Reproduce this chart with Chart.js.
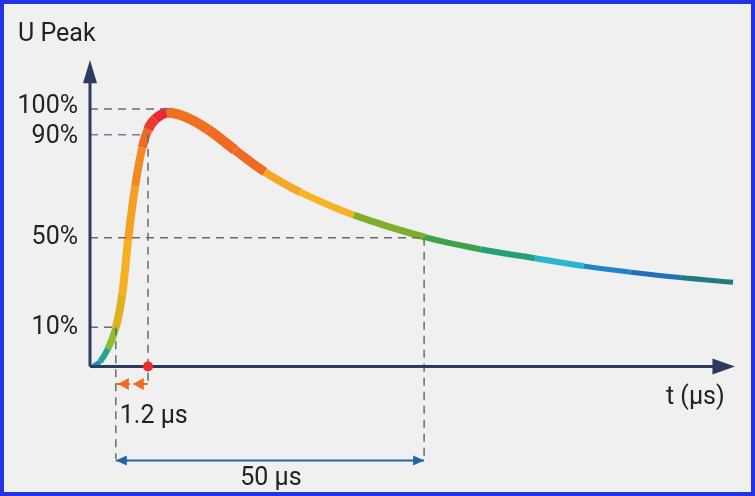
<!DOCTYPE html>
<html><head><meta charset="utf-8">
<script src="https://cdn.jsdelivr.net/npm/chart.js@4.4.0/dist/chart.umd.min.js"></script>
<style>
html,body{margin:0;padding:0;background:#f0f0f0;}
#wrap{width:747px;height:488px;border:4px solid #2233e6;background:#f0f0f0;}
</style></head><body>
<div id="wrap"><canvas id="c" width="747" height="488"></canvas></div>
<script>
// waveform (t in axis units, U in %)
const waveT = [0.5,1.6,2.8,4,5,5.9,7,8.1,9,10.1,11.9,14.7,18.3,22.5,27.1,32.6,40.9,51.9,60.5,69,76.5,83.9,91.5,99.7];
const waveU = [0,2,7,15,28,49,70,85,92,96,98.5,97,92,84,75.5,67.7,58.8,50.2,45.5,42,39,36.6,34.5,32.7];
const segColors = ['#1a8fc0','#2aa38a','#8cbf2c','#e0b020','#f5b022','#f5a023','#f28a22','#f06a26','#ec3a2c','#ea2a30','#f07022','#f07022','#f06a22','#ef6a22','#f5a823','#f7b323','#7fae2a','#3ea24a','#26a078','#28b6d0','#2184c8','#1f70b8','#207a80'];
const segWidths = [5,6,7,8,8,8,8,9,10,10,10,10,10,9,8,7,7,6,6,6,5,5,5];
// reference levels: tick labels and their drawn positions
const tickLabels = ['100%','90%','50%','10%'];
const tickValues = [100,90,50,15.2];
// markers
const t10 = 4.0, t90 = 9.0, t50 = 51.8;
const riseLabel = '1.2 µs', tailLabel = '50 µs';
const yTitle = 'U Peak', xTitle = 't (µs)';

const axisCol = '#2c3a5e';
const dash = [8,6];
const ds = (data, color, w, d) => ({type:'line', data, borderColor:color, borderWidth:w, borderDash:d||[], pointRadius:0, tension:0, fill:false});

const refLines = [
  ds([{x:0,y:100},{x:12,y:100}],'#6a6a6a',1.5,dash),
  ds([{x:0,y:90},{x:t90,y:90}],'#6f7fa0',1.5,dash),
  ds([{x:0,y:50},{x:t50,y:50}],'#6a6a6a',1.5,dash),
  ds([{x:0,y:15.2},{x:t10,y:15.2}],'#6a6a6a',1.5,dash),
  ds([{x:t10,y:15.2},{x:t10,y:-36}],'#6a6a6a',1.5,dash),
  ds([{x:t90,y:90},{x:t90,y:-7}],'#6a6a6a',1.5,dash),
  ds([{x:t50,y:50},{x:t50,y:-36}],'#6a6a6a',1.5,dash),
];

const decor = {
  id:'decor',
  afterDatasetsDraw(ch){
    const c = ch.ctx, xs = ch.scales.x, ys = ch.scales.y;
    const X = v=>xs.getPixelForValue(v), Y = v=>ys.getPixelForValue(v);
    c.save();
    c.strokeStyle = axisCol; c.fillStyle = axisCol; c.lineWidth = 3;
    c.beginPath(); c.moveTo(X(0),Y(0)); c.lineTo(X(0),Y(112)); c.stroke();
    c.beginPath(); c.moveTo(X(0),Y(0)); c.lineTo(X(97),Y(0)); c.stroke();
    c.beginPath(); c.moveTo(X(0)-7,Y(110)); c.lineTo(X(0)+7,Y(110)); c.lineTo(X(0),Y(119)); c.closePath(); c.fill();
    c.beginPath(); c.moveTo(X(96.5),Y(0)-8); c.lineTo(X(96.5),Y(0)+8); c.lineTo(X(100),Y(0)); c.closePath(); c.fill();
    c.fillStyle = '#222'; c.font = '25px Roboto'; c.textAlign = 'right'; c.textBaseline = 'middle';
    tickLabels.forEach((l,i)=>c.fillText(l, X(0)-12, Y(tickValues[i])+(i===0?-2:(i===1?2:0))));
    c.textAlign = 'left';
    c.fillText(yTitle, 14, 31);
    c.fillText(xTitle, X(89.3), Y(0)+31);
    c.fillStyle = '#ee2a2a'; c.beginPath(); c.arc(X(t90),Y(0),5,0,Math.PI*2); c.fill();
    const oy = Y(-6.8); c.strokeStyle = '#f06a20'; c.fillStyle = '#f06a20'; c.lineWidth = 2;
    c.setLineDash([5,4]); c.beginPath(); c.moveTo(X(t10),oy); c.lineTo(X(t90),oy); c.stroke(); c.setLineDash([]);
    [X(t10)+2, X(t10)+17].forEach(px=>{c.beginPath(); c.moveTo(px,oy); c.lineTo(px+11,oy-6); c.lineTo(px+11,oy+6); c.closePath(); c.fill();});
    c.fillStyle = '#222'; c.font = '25px Roboto'; c.textAlign = 'left';
    c.fillText(riseLabel, X(t10)+4, Y(-19.5));
    const by = Y(-36.5); c.strokeStyle = '#1f66a8'; c.fillStyle = '#1f66a8'; c.lineWidth = 2;
    c.beginPath(); c.moveTo(X(t10),by); c.lineTo(X(t50),by); c.stroke();
    c.beginPath(); c.moveTo(X(t10),by); c.lineTo(X(t10)+11,by-5); c.lineTo(X(t10)+11,by+5); c.closePath(); c.fill();
    c.beginPath(); c.moveTo(X(t50),by); c.lineTo(X(t50)-11,by-5); c.lineTo(X(t50)-11,by+5); c.closePath(); c.fill();
    c.fillStyle = '#222'; c.textAlign = 'center';
    c.fillText(tailLabel, (X(t10)+X(t50))/2+1, Y(-43.8));
    c.restore();
  }
};

new Chart(document.getElementById('c'), {
  type:'line',
  data:{datasets:[
    ...refLines,
    {type:'line', data:waveT.map((t,i)=>({x:t,y:waveU[i]})), pointRadius:0, tension:0.35, borderCapStyle:'butt', borderJoinStyle:'round', borderColor:'#f07022',
     segment:{borderColor:ctx=>segColors[ctx.p0DataIndex], borderWidth:ctx=>segWidths[ctx.p0DataIndex]}}
  ]},
  options:{
    responsive:false, animation:false, devicePixelRatio:1,
    layout:{padding:{left:86,top:56,right:16,bottom:2}},
    plugins:{legend:{display:false}, tooltip:{enabled:false}},
    scales:{
      x:{type:'linear', min:0, max:100, display:false},
      y:{type:'linear', min:-48, max:119, display:false}
    }
  },
  plugins:[decor]
});
</script></body></html>
